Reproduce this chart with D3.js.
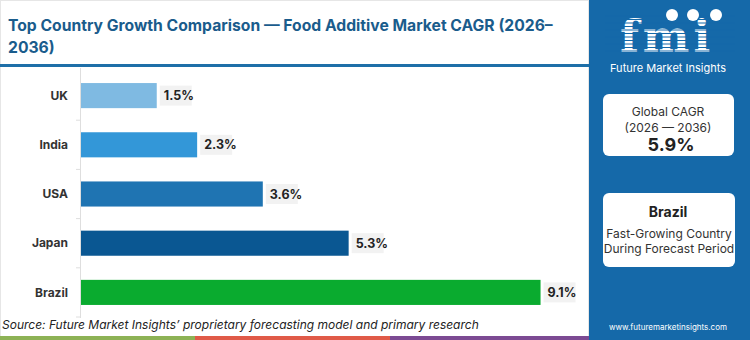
<!DOCTYPE html>
<html>
<head>
<meta charset="utf-8">
<script src="https://cdn.jsdelivr.net/npm/d3@7"></script>
<style>
  body { margin: 0; background: #fff; }
  svg { display: block; font-family: "Inter", "Open Sans", sans-serif; }
</style>
</head>
<body>
<div id="chart"></div>
<script>
// Chart data
const countries = ["UK", "India", "USA", "Japan", "Brazil"];
const cagr = [1.5, 2.3, 3.6, 5.3, 9.1];
const barColors = ["#7fbae2", "#3397d8", "#1f74b2", "#0a5792", "#0aab2f"];
const globalCagr = "5.9%";
const leader = "Brazil";

// SVG dimensions
const w = 750;
const h = 340;
const panelX = 589;

const svg = d3.select("#chart")
    .append("svg")
    .attr("width", w)
    .attr("height", h);

// Left area border
svg.append("rect")
    .attr("x", 0.5).attr("y", 0.5)
    .attr("width", panelX - 1).attr("height", h - 1)
    .attr("fill", "#fff")
    .attr("stroke", "#e6e6e6");

// Title
const title = svg.append("text")
    .attr("fill", "#1a5c8c")
    .style("font-size", "15.7px")
    .style("font-weight", "700");
title.append("tspan").attr("x", 8).attr("y", 31)
    .text("Top Country Growth Comparison \u2014 Food Additive Market CAGR (2026\u2013");
title.append("tspan").attr("x", 8).attr("y", 53)
    .text("2036)");

// Title underline
svg.append("rect")
    .attr("x", 0).attr("y", 64)
    .attr("width", panelX).attr("height", 3)
    .attr("fill", "#1e6fa8");

// Scales
const xScale = d3.scaleLinear()
    .domain([0, 10])
    .range([81, 586]);

const yScale = d3.scaleBand()
    .domain(countries)
    .range([71, 317])
    .paddingInner(0.49)
    .paddingOuter(0.245);

// Axis line and ticks at band boundaries
svg.append("line")
    .attr("x1", 80.5).attr("x2", 80.5)
    .attr("y1", 68).attr("y2", 318)
    .attr("stroke", "#dedede");

const step = yScale.step();
const bounds = countries.map((c, i) => yScale(c) + yScale.bandwidth() + (step - yScale.bandwidth()) / 2);
svg.selectAll(".tick-mark")
    .data(bounds)
    .enter()
    .append("line")
    .attr("x1", 76).attr("x2", 80)
    .attr("y1", d => d).attr("y2", d => d)
    .attr("stroke", "#dedede");

// Category labels
svg.selectAll(".cat")
    .data(countries)
    .enter()
    .append("text")
    .attr("x", 68)
    .attr("y", d => yScale(d) + yScale.bandwidth() / 2)
    .attr("dy", "0.35em")
    .attr("text-anchor", "end")
    .attr("fill", "#333")
    .style("font-size", "12px")
    .style("font-weight", "700")
    .text(d => d);

// Bars
svg.selectAll(".bar")
    .data(cagr)
    .enter()
    .append("rect")
    .attr("x", xScale(0))
    .attr("y", (d, i) => yScale(countries[i]))
    .attr("width", d => xScale(d) - xScale(0))
    .attr("height", yScale.bandwidth())
    .attr("fill", (d, i) => barColors[i]);

// Value labels with light background
const vals = svg.selectAll(".val")
    .data(cagr)
    .enter()
    .append("g")
    .attr("transform", (d, i) => "translate(" + (xScale(d) + 3) + "," + (yScale(countries[i]) + yScale.bandwidth() / 2) + ")");

vals.append("rect")
    .attr("x", 0).attr("y", -10)
    .attr("width", 32).attr("height", 20)
    .attr("fill", "#f2f2f2");

vals.append("text")
    .attr("x", 4)
    .attr("dy", "0.36em")
    .attr("fill", "#222")
    .style("font-size", "12.5px")
    .style("font-weight", "700")
    .text(d => d + "%");

// Source note
svg.append("text")
    .attr("x", 2).attr("y", 329)
    .attr("fill", "#222")
    .style("font-size", "12px")
    .style("font-style", "italic")
    .text("Source: Future Market Insights\u2019 proprietary forecasting model and primary research");

// Bottom colour stripes
const stripeColors = ["#8db255", "#e05a48", "#7c4a93"];
svg.selectAll(".stripe")
    .data(stripeColors)
    .enter()
    .append("rect")
    .attr("x", (d, i) => i * 195)
    .attr("y", 336)
    .attr("width", (d, i) => i === 2 ? panelX - 390 : 195)
    .attr("height", 4)
    .attr("fill", d => d);

// Right panel
svg.append("rect")
    .attr("x", panelX).attr("y", 0)
    .attr("width", w - panelX).attr("height", h)
    .attr("fill", "#1569a9");

// Logo: white letters with blue stripes over them
svg.append("text")
    .attr("x", 667).attr("y", 52)
    .attr("text-anchor", "middle")
    .attr("fill", "#fff")
    .style("font-family", "'DejaVu Serif', serif")
    .style("font-size", "44px")
    .style("font-weight", "700")
    .style("letter-spacing", "4px")
    .text("fmi");

svg.selectAll(".logo-stripe")
    .data(d3.range(16, 54, 3.5))
    .enter()
    .append("line")
    .attr("x1", 605).attr("x2", 735)
    .attr("y1", d => d).attr("y2", d => d)
    .attr("stroke", "#1569a9")
    .attr("stroke-width", 1.2);

svg.selectAll(".logo-dot")
    .data([672, 693, 716])
    .enter()
    .append("circle")
    .attr("cx", d => d).attr("cy", 15)
    .attr("r", 6)
    .attr("fill", "#fff");

svg.append("text")
    .attr("x", 668).attr("y", 72)
    .attr("text-anchor", "middle")
    .attr("fill", "#fff")
    .style("font-size", "11px")
    .text("Future Market Insights");

// Global CAGR box
svg.append("rect")
    .attr("x", 603).attr("y", 94)
    .attr("width", 131).attr("height", 62)
    .attr("rx", 6)
    .attr("fill", "#fff");

svg.append("text")
    .attr("x", 668).attr("y", 116)
    .attr("text-anchor", "middle")
    .attr("fill", "#333")
    .style("font-size", "12px")
    .text("Global CAGR");

svg.append("text")
    .attr("x", 668).attr("y", 132)
    .attr("text-anchor", "middle")
    .attr("fill", "#333")
    .style("font-size", "12px")
    .text("(2026 \u2014 2036)");

svg.append("text")
    .attr("x", 671).attr("y", 151)
    .attr("text-anchor", "middle")
    .attr("fill", "#222")
    .style("font-size", "18px")
    .style("font-weight", "700")
    .text(globalCagr);

// Leading country box
svg.append("rect")
    .attr("x", 603).attr("y", 193)
    .attr("width", 132).attr("height", 74)
    .attr("rx", 6)
    .attr("fill", "#fff");

svg.append("text")
    .attr("x", 668).attr("y", 217)
    .attr("text-anchor", "middle")
    .attr("fill", "#222")
    .style("font-size", "14px")
    .style("font-weight", "700")
    .text(leader);

svg.append("text")
    .attr("x", 669).attr("y", 238)
    .attr("text-anchor", "middle")
    .attr("fill", "#333")
    .style("font-size", "12px")
    .text("Fast-Growing Country");

svg.append("text")
    .attr("x", 669).attr("y", 253)
    .attr("text-anchor", "middle")
    .attr("fill", "#333")
    .style("font-size", "12px")
    .text("During Forecast Period");

svg.append("text")
    .attr("x", 668).attr("y", 330)
    .attr("text-anchor", "middle")
    .attr("fill", "#fff")
    .style("font-size", "8px")
    .text("www.futuremarketinsights.com");
</script>
</body>
</html>
